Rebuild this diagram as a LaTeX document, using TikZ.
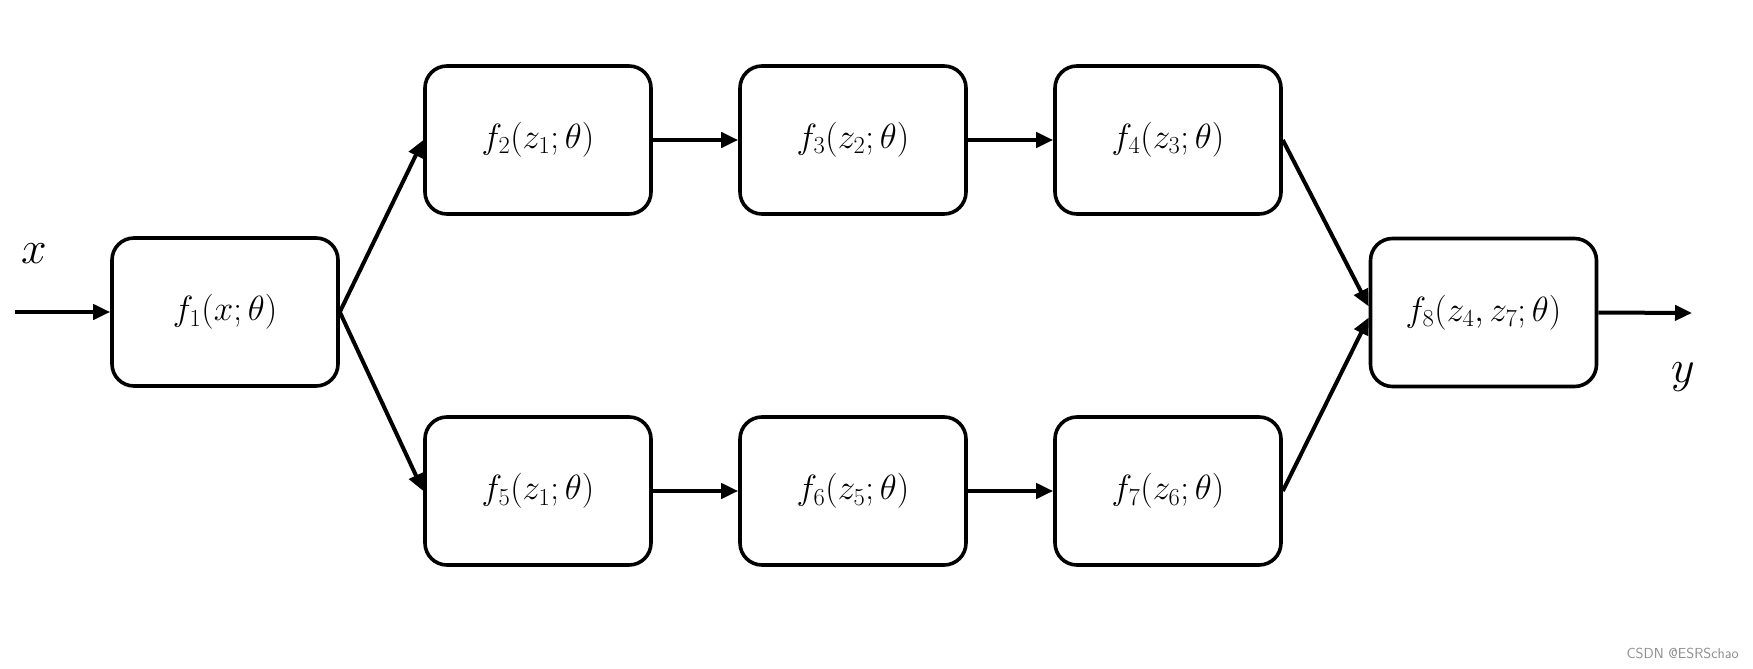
\RequirePackage{fix-cm}
\documentclass[tikz,border=0pt]{standalone}
\usetikzlibrary{arrows.meta}
\begin{document}
\begin{tikzpicture}[x=1pt,y=-1pt,
  fbox/.style={draw=black, line width=3.6pt, rounded corners=22pt, minimum width=226pt, minimum height=148pt, inner sep=0pt, font=\fontsize{35}{42}\selectfont},
  conn/.style={line width=4pt, -{Triangle[length=17pt,width=15pt]}},
  lab/.style={inner sep=0pt, font=\fontsize{46}{54}\selectfont}]
\useasboundingbox (0,0) rectangle (1753,669);
\node[fbox] (f1) at (225,312) {$f_1(x;\theta)$};
\node[fbox] (f2) at (538,140) {$f_2(z_1;\theta)$};
\node[fbox] (f3) at (853,140) {$f_3(z_2;\theta)$};
\node[fbox] (f4) at (1168,140) {$f_4(z_3;\theta)$};
\node[fbox] (f5) at (538,491) {$f_5(z_1;\theta)$};
\node[fbox] (f6) at (853,491) {$f_6(z_5;\theta)$};
\node[fbox] (f7) at (1168,491) {$f_7(z_6;\theta)$};
\node[fbox] (f8) at (1483.5,312.5) {$f_8(z_4,z_7;\theta)$};
\coordinate (in) at (15,312);
\coordinate (out) at (1692,313);
\node[lab] (xl) at (34,254) {$x$};
\node[lab] (yl) at (1683,377) {$y$};
\draw[conn] (in) -- (f1.west);
\draw[conn] (f1.east) -- (f2.west);
\draw[conn] (f1.east) -- (f5.west);
\draw[conn] (f2.east) -- (f3.west);
\draw[conn] (f3.east) -- (f4.west);
\draw[conn] (f5.east) -- (f6.west);
\draw[conn] (f6.east) -- (f7.west);
\draw[conn] (f4.east) -- ([yshift=6pt]f8.west);
\draw[conn] (f7.east) -- ([yshift=-5pt]f8.west);
\draw[conn] (f8.east) -- (out);
\node[text=black!45, font=\sffamily\fontsize{14.5}{17}\selectfont, anchor=east, inner sep=0pt] (wm) at (1739,653) {CSDN @ESRSchao};
\end{tikzpicture}
\end{document}
